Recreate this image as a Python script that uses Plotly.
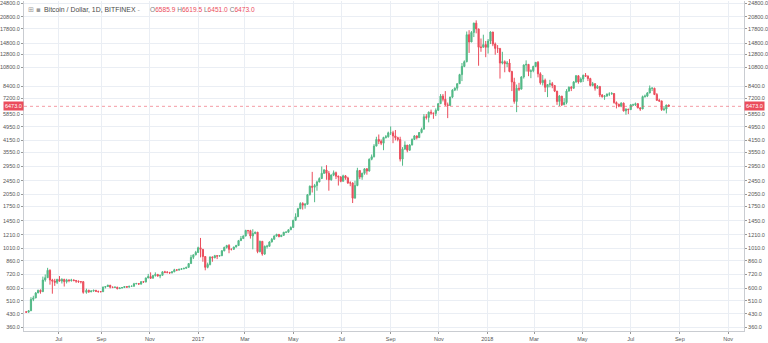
import numpy as np
import pandas as pd
import plotly.graph_objects as go

# ---------------- data (3-day candles, Bitfinex BTC/USD) ----------------
SEG1_START = "2016-05-20"      # first candle period start
SEG1_COUNT = 25                # candles before the Aug-2016 feed gap
SEG2_START = "2016-08-12"      # first candle after the gap
CANDLE_DAYS = 3
FEED_GAP = ["2016-08-03", "2016-08-11"]   # no bars on the exchange feed

first_open = 442.0

closes = [
    # May 20 2016 - Aug 2 2016
    440, 448, 520, 530, 565, 585, 575, 670, 690, 760,
    670, 660, 650, 675, 660, 675, 655, 670, 665, 670,
    665, 660, 655, 655, 570,
    # Aug 12 2016 onward
    585, 575, 580, 585, 578, 575, 575, 610, 615, 625,
    610, 608, 610, 598, 603, 607, 615, 610, 617, 617,
    637, 640, 635, 655, 652, 688, 700, 685, 710, 720,
    705, 712, 745, 740, 740, 735, 745, 765, 762, 770,
    775, 780, 790, 830, 900, 930, 960, 1020, 1000, 910,
    790, 820, 905, 895, 920, 915, 920, 980, 1025, 1050,
    1000, 1000, 1030, 1050, 1120, 1150, 1190, 1280, 1275, 1190,
    1230, 1250, 970, 1110, 940, 1040, 1040, 1100, 1140, 1190,
    1215, 1180, 1200, 1250, 1250, 1290, 1330, 1460, 1530, 1700,
    1820, 1780, 1800, 2040, 2280, 2250, 2300, 2410, 2520, 2700,
    2820, 2700, 2480, 2640, 2720, 2600, 2570, 2430, 2610, 2540,
    2380, 2380, 1950, 2300, 2800, 2570, 2700, 2860, 2780, 3240,
    3350, 3850, 4200, 4100, 4000, 4310, 4350, 4580, 4580, 4400,
    4300, 4200, 3250, 3700, 3900, 3650, 3900, 4200, 4400, 4300,
    4600, 4800, 5650, 5600, 6000, 5930, 5900, 6150, 6700, 7400,
    7100, 6600, 6550, 7300, 8000, 8200, 8700, 9800, 10900, 11600,
    16500, 15000, 17000, 19200, 17800, 14000, 14000, 14500, 14000, 15200,
    17100, 14600, 13800, 13800, 11400, 11600, 11300, 11400, 10200, 8900,
    6900, 8200, 8100, 9500, 11100, 11200, 10200, 10300, 10900, 11500,
    9900, 8800, 9100, 8300, 8600, 8700, 8500, 7900, 6900, 7400,
    6600, 6800, 7900, 8300, 8200, 8900, 9650, 8900, 9250, 9700,
    9600, 9300, 8500, 8700, 8200, 8400, 7500, 7350, 7400, 7600,
    7600, 7650, 6800, 6650, 6500, 6750, 6100, 6250, 6200, 6600,
    6600, 6700, 6350, 6250, 7350, 7400, 7700, 8200, 8200, 7550,
    7000, 6950, 6200, 6250, 6585.9, 6473.0,
]

highs = [
    445, 452, 535, 545, 572, 590, 592, 700, 720, 785,
    770, 680, 680, 680, 705, 685, 680, 680, 675, 680,
    675, 670, 665, 660, 660,
    598, 590, 585, 590, 588, 582, 580, 615, 618, 630,
    628, 614, 614, 612, 608, 610, 618, 618, 620, 622,
    645, 645, 642, 660, 660, 690, 725, 740, 712, 740,
    725, 718, 750, 755, 752, 742, 750, 775, 768, 775,
    780, 785, 795, 835, 930, 935, 980, 1035, 1160, 1000,
    915, 840, 910, 910, 930, 925, 925, 990, 1035, 1060,
    1070, 1010, 1035, 1060, 1130, 1190, 1200, 1290, 1285, 1290,
    1300, 1260, 1255, 1120, 1110, 1050, 1060, 1110, 1160, 1200,
    1225, 1220, 1210, 1255, 1265, 1300, 1350, 1470, 1600, 1720,
    1850, 1850, 1830, 2060, 2300, 2750, 2350, 2450, 2560, 2950,
    2850, 3000, 2780, 2660, 2800, 2760, 2620, 2600, 2650, 2640,
    2580, 2430, 2400, 2450, 2900, 2800, 2720, 2880, 2890, 3280,
    3450, 3950, 4350, 4480, 4200, 4350, 4450, 4650, 4980, 4700,
    4750, 4350, 4350, 3800, 4100, 3900, 3950, 4260, 4450, 4420,
    4620, 4900, 5850, 5850, 6050, 6200, 5950, 6300, 6750, 7600,
    7600, 7900, 6800, 7350, 8100, 8300, 8750, 9900, 11400, 11800,
    17200, 17500, 17300, 19300, 19900, 17800, 15700, 16500, 15200, 15600,
    17250, 17100, 14900, 14400, 13800, 13200, 11800, 11700, 12000, 10300,
    9400, 8600, 8800, 9600, 11200, 11800, 11200, 10500, 11000, 11550,
    11700, 10100, 9750, 9300, 8600, 9150, 8900, 8500, 7900, 7500,
    7400, 7200, 8100, 8400, 8450, 9000, 9750, 9700, 9450, 9800,
    10000, 9700, 9400, 8900, 8750, 8550, 8400, 7600, 7500, 7650,
    7780, 7800, 7700, 6900, 6700, 6830, 6800, 6300, 6250, 6650,
    6700, 6800, 6750, 6360, 7450, 7550, 7800, 8500, 8300, 8250,
    7700, 7150, 6950, 6500, 6600, 6619.5,
]

lows = [
    436, 438, 447, 508, 528, 565, 560, 572, 655, 690,
    630, 560, 620, 635, 655, 640, 615, 640, 650, 655,
    658, 645, 645, 640, 560,
    560, 565, 570, 575, 572, 568, 570, 572, 600, 612,
    600, 602, 604, 592, 596, 600, 603, 606, 608, 612,
    615, 633, 628, 630, 645, 650, 685, 680, 685, 700,
    700, 685, 710, 732, 730, 725, 730, 742, 752, 758,
    765, 770, 778, 788, 828, 880, 925, 955, 900, 850,
    760, 780, 810, 850, 890, 880, 910, 915, 975, 1010,
    950, 985, 995, 1025, 1045, 1120, 1145, 1185, 1225, 1150,
    1000, 1220, 950, 960, 920, 930, 1010, 1040, 1095, 1135,
    1180, 1170, 1175, 1195, 1235, 1245, 1290, 1325, 1455, 1530,
    1690, 1680, 1700, 1795, 2020, 2100, 1850, 2150, 2400, 2510,
    2680, 2480, 2150, 2450, 2600, 2500, 2300, 2400, 2430, 2480,
    2350, 2280, 1830, 1950, 2280, 2500, 2480, 2650, 2650, 2760,
    3200, 3320, 3850, 3950, 3900, 3650, 4250, 4300, 4450, 4000,
    4150, 4100, 3150, 2980, 3680, 3550, 3620, 3900, 4190, 4200,
    4300, 4550, 4800, 5450, 5250, 5800, 5500, 5700, 6100, 6700,
    6900, 6500, 5550, 6500, 7200, 7900, 7950, 8700, 9000, 10800,
    11500, 13000, 15000, 16000, 16800, 11000, 13200, 14000, 12300, 12900,
    14600, 14200, 12700, 13000, 9300, 11200, 10100, 10800, 10100, 7900,
    6700, 6000, 7900, 8100, 9300, 10200, 9600, 9350, 10100, 10800,
    9450, 8600, 8500, 7800, 7300, 8300, 8200, 7800, 6600, 6500,
    6500, 6600, 6650, 7850, 7900, 8150, 8800, 8700, 8850, 8900,
    9500, 9000, 8400, 8400, 7950, 8150, 7300, 7250, 7050, 7350,
    7400, 7550, 6700, 6300, 6400, 6400, 6050, 5800, 5850, 6200,
    6500, 6500, 6300, 6100, 6250, 7250, 7300, 7700, 7900, 7500,
    6950, 6850, 6100, 6100, 5900, 6451.0,
]

y_tick_values = [360, 430, 510, 600, 720, 860, 1010, 1210, 1450, 1750, 2050,
                 2450, 2950, 3550, 4150, 4950, 5850, 7200, 8400, 10800, 12800,
                 14800, 17800, 20800, 24800]
x_tick_dates = ["2016-07-01", "2016-09-01", "2016-11-01", "2017-01-01",
                "2017-03-01", "2017-05-01", "2017-07-01", "2017-09-01",
                "2017-11-01", "2018-01-01", "2018-03-01", "2018-05-01",
                "2018-07-01", "2018-09-01", "2018-11-01"]
x_tick_labels = ["Jul", "Sep", "Nov", "2017", "Mar", "May", "Jul", "Sep",
                 "Nov", "2018", "Mar", "May", "Jul", "Sep", "Nov"]
symbol_title = "Bitcoin / Dollar, 1D, BITFINEX"

# ---------------- derived ----------------
n2 = len(closes) - SEG1_COUNT
starts = list(pd.date_range(SEG1_START, periods=SEG1_COUNT, freq=f"{CANDLE_DAYS}D")) + \
         list(pd.date_range(SEG2_START, periods=n2, freq=f"{CANDLE_DAYS}D"))
x = [d + pd.Timedelta(days=1) for d in starts]   # centre of each 3-day period
opens = [first_open] + closes[:-1]

UP = "#53B987"
DOWN = "#EB4D5C"
GRID = "#EAEEF4"
AXIS = "#C9CCD1"
TXT = "#555555"
FONT = "Liberation Sans, Arial, sans-serif"

y_range = [2.5365, 4.4087]
y_tick_text = [f"{v:.1f}" for v in y_tick_values]

fig = go.Figure()
fig.add_trace(go.Candlestick(
    x=x, open=opens, high=highs, low=lows, close=closes,
    increasing=dict(line=dict(color=UP, width=1), fillcolor=UP),
    decreasing=dict(line=dict(color=DOWN, width=1), fillcolor=DOWN),
    whiskerwidth=0, showlegend=False, hoverinfo="skip"))
# invisible anchor so the right-hand price scale is drawn
fig.add_trace(go.Scatter(x=[x[-1]], y=[closes[-1]], yaxis="y2", mode="markers",
                         marker=dict(size=1, opacity=0), showlegend=False,
                         hoverinfo="skip"))

yax = dict(type="log", range=y_range, tickmode="array", tickvals=y_tick_values,
           ticktext=y_tick_text, showline=True, linecolor=AXIS, linewidth=1,
           ticks="outside", ticklen=2, tickcolor="#999", zeroline=False,
           ticklabeloverflow="allow",
           tickfont=dict(size=5.5, color=TXT, family=FONT), fixedrange=True)

fig.update_layout(
    width=768, height=343,
    margin=dict(l=21, r=22, t=0, b=12),
    paper_bgcolor="white", plot_bgcolor="white",
    showlegend=False,
    font=dict(family=FONT),
    xaxis=dict(type="date", range=["2016-05-18 05:00", "2018-11-21 00:00"],
               rangeslider=dict(visible=False),
               rangebreaks=[dict(bounds=FEED_GAP)],
               tickmode="array", tickvals=x_tick_dates, ticktext=x_tick_labels,
               showgrid=True, gridcolor=GRID, gridwidth=1,
               showline=True, linecolor=AXIS, linewidth=1,
               ticks="outside", ticklen=2, tickcolor="#999",
               tickfont=dict(size=5.5, color=TXT, family=FONT),
               zeroline=False, fixedrange=True),
    yaxis=dict(side="left", showgrid=True, gridcolor=GRID, gridwidth=1, **yax),
    yaxis2=dict(side="right", overlaying="y", showgrid=False, **yax),
)

last = closes[-1]
fig.add_shape(type="line", xref="paper", x0=0, x1=1, yref="y", y0=last, y1=last,
              line=dict(color="rgba(235,77,92,0.55)", width=1, dash="dot"))

lbl = f"{last:.1f}"
for xp, anchor in [(0, "right"), (1, "left")]:
    fig.add_annotation(x=xp, xref="paper", y=np.log10(last), yref="y",
                       text=lbl, showarrow=False, xanchor=anchor, yanchor="middle",
                       bgcolor=DOWN, borderpad=1,
                       font=dict(size=5.5, color="white", family=FONT))

def px(p):
    return (p - 21) / 725.0

fig.add_annotation(x=px(23), xref="paper", y=1, yref="paper", yanchor="top",
                   xanchor="left", yshift=-3, showarrow=False,
                   text="⊞ ▪", font=dict(size=7, color="#9a9a9a", family="DejaVu Sans"))
fig.add_annotation(x=px(39), xref="paper", y=1, yref="paper", yanchor="top",
                   xanchor="left", yshift=-3, showarrow=False,
                   text=symbol_title + " <span style='color:#999'>-</span>",
                   font=dict(size=6.9, color="#4a4a4a", family=FONT))
ohlc = [("O", opens[-1]), ("H", highs[-1]), ("L", lows[-1]), ("C", closes[-1])]
ohlc_txt = " ".join(f"<span style='color:#808080'>{k}</span>"
                    f"<span style='color:{DOWN}'>{v:.1f}</span>" for k, v in ohlc)
fig.add_annotation(x=px(146), xref="paper", y=1, yref="paper", yanchor="top",
                   xanchor="left", yshift=-3, showarrow=False,
                   text=ohlc_txt, font=dict(size=6.6, family=FONT))

fig.write_html("out.html")
